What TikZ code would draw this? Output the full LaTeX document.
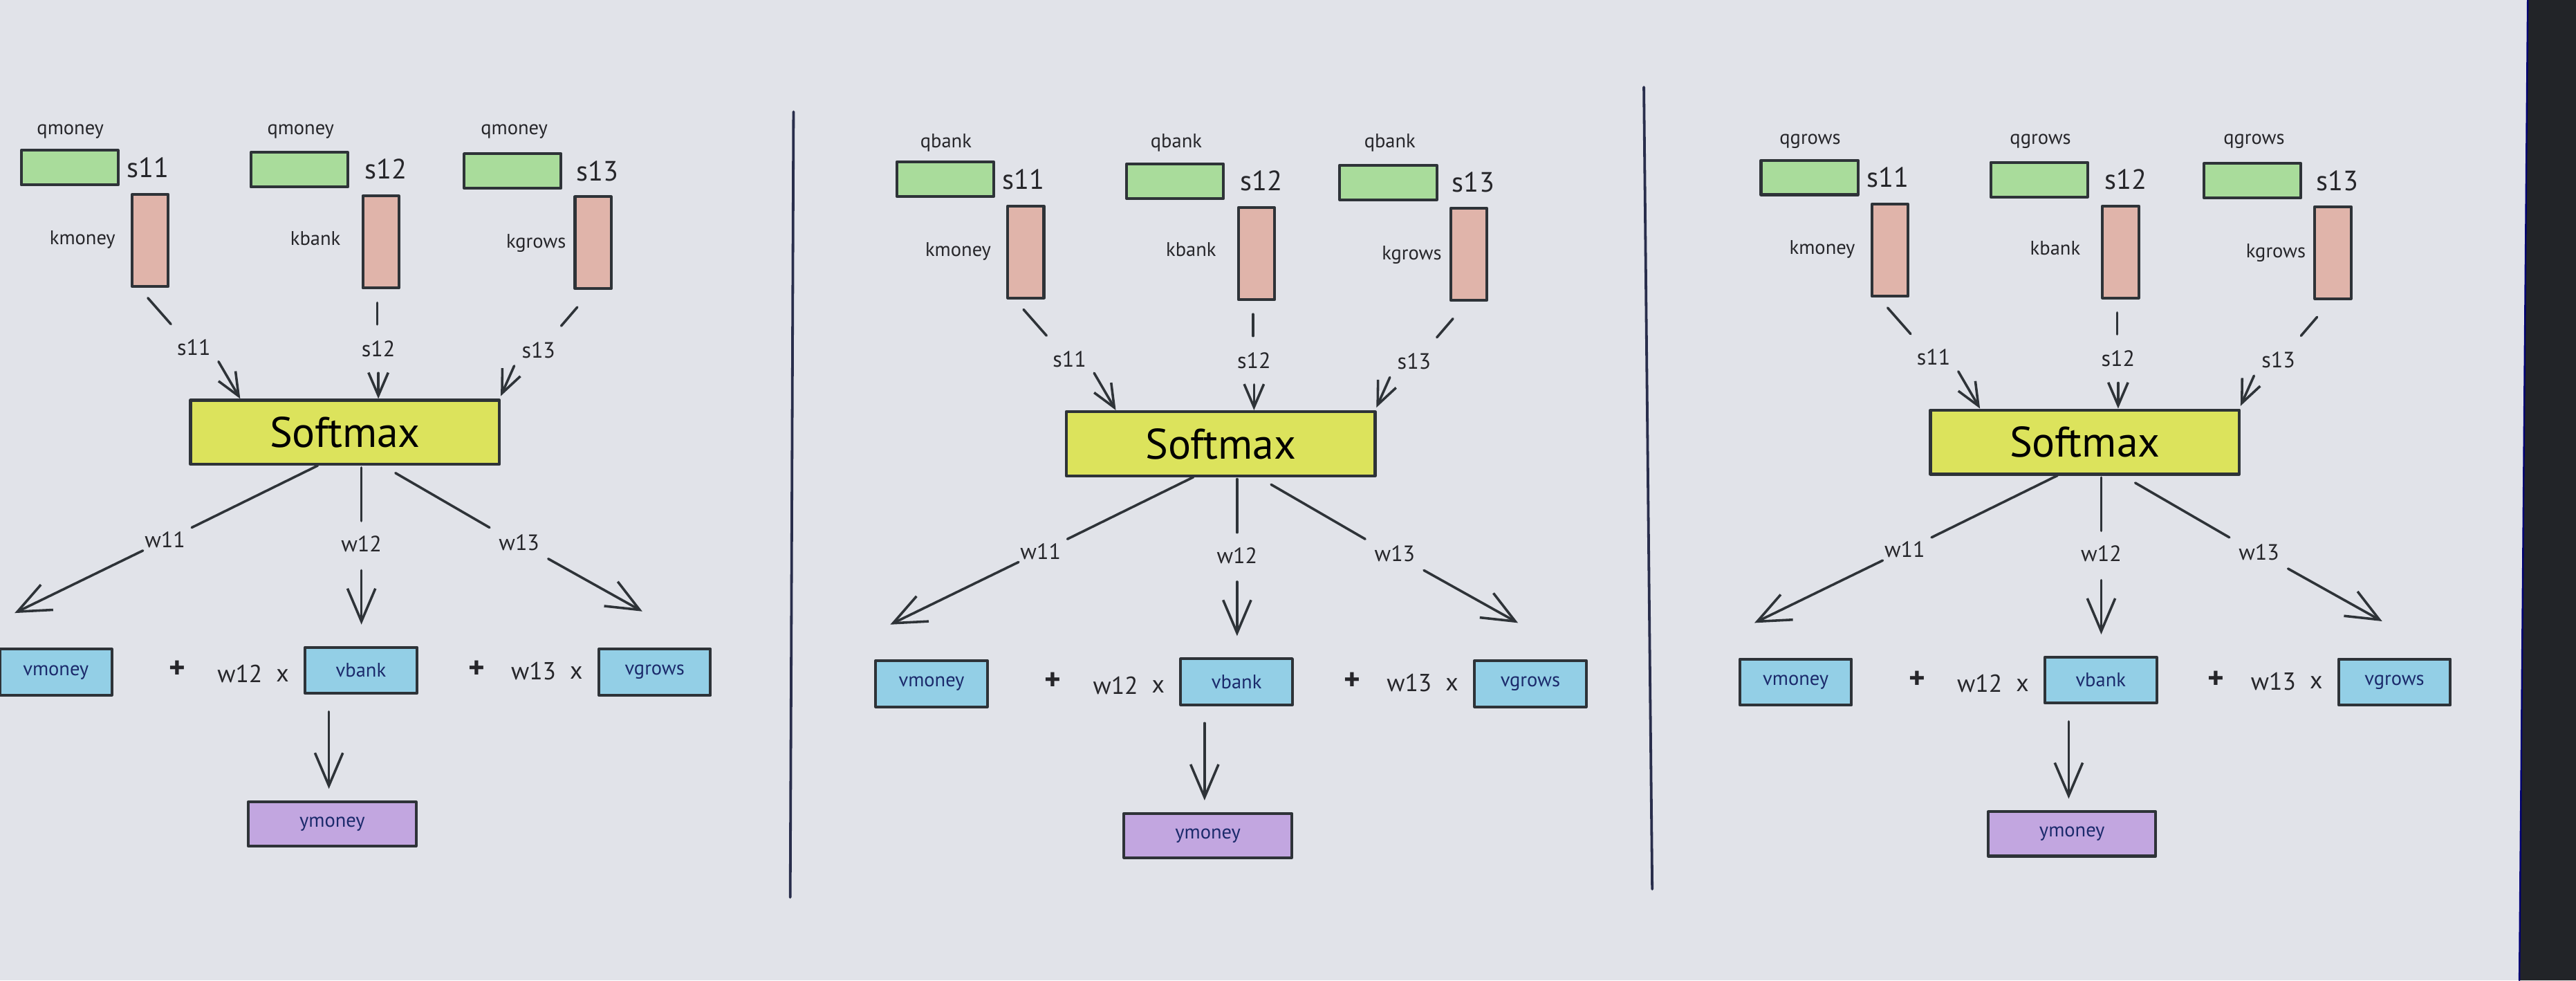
\documentclass[tikz,border=0pt]{standalone}
\usepackage{fontspec}
\setmainfont{PT Sans}
\usetikzlibrary{arrows.meta}
\definecolor{bgc}{HTML}{E1E3E9}
\definecolor{ink}{HTML}{26262A}
\definecolor{edge}{HTML}{2E3338}
\definecolor{qfill}{HTML}{A9DC9B}
\definecolor{kfill}{HTML}{E0B4AA}
\definecolor{smfill}{HTML}{DCE35C}
\definecolor{vfill}{HTML}{93CFE6}
\definecolor{yfill}{HTML}{C2A6E0}
\definecolor{vtext}{HTML}{1B2A6B}
\definecolor{bezel}{HTML}{222428}
\tikzset{
  base/.style={inner sep=0pt, text=ink},
  qlab/.style={base, font=\fontsize{12}{14}\selectfont},
  slab/.style={base, font=\fontsize{17}{19}\selectfont},
  mlab/.style={base, font=\fontsize{13.5}{15}\selectfont},
  oplab/.style={base, font=\fontsize{15}{17}\selectfont},
  pluslab/.style={base, font=\bfseries\fontsize{19}{21}\selectfont},
  qbox/.style={draw=edge, fill=qfill, line width=1.7pt, minimum width=59pt, minimum height=21pt, inner sep=0pt},
  kbox/.style={draw=edge, fill=kfill, line width=1.7pt, minimum width=22pt, minimum height=56pt, inner sep=0pt},
  smbox/.style={draw=edge, fill=smfill, line width=1.8pt, minimum width=188pt, minimum height=39pt, inner sep=0pt, text=black, font=\fontsize{26}{28}\selectfont},
  vbox/.style={draw=edge, fill=vfill, line width=1.7pt, minimum width=68pt, minimum height=28pt, inner sep=0pt, text=vtext, font=\fontsize{12}{14}\selectfont},
  ybox/.style={draw=edge, fill=yfill, line width=1.7pt, minimum width=102pt, minimum height=27pt, inner sep=0pt, text=vtext, font=\fontsize{12}{14}\selectfont},
  conn/.style={draw=edge, line width=1.5pt},
  arrS/.style={conn, -{Straight Barb[length=14pt,width=12pt]}},
  arrL/.style={conn, -{Straight Barb[length=20pt,width=17pt]}},
  divider/.style={draw=edge!90!blue, line width=1.6pt}
}
\newcommand\attnpanel[4]{%
\begin{scope}[shift={(#2,#3)}]
  % queries
  \node[qlab] (#1ql1) at (42.8,80) {#4};
  \node[qlab] (#1ql2) at (183,80) {#4};
  \node[qlab] (#1ql3) at (313,80) {#4};
  \node[qbox] (#1q1) at (42.4,102) {};
  \node[qbox] (#1q2) at (182.2,103.3) {};
  \node[qbox] (#1q3) at (312,104) {};
  \node[slab] (#1s1) at (90,102) {s11};
  \node[slab] (#1s2) at (234.8,103) {s12};
  \node[slab] (#1s3) at (363.8,104) {s13};
  % keys
  \node[kbox] (#1k1) at (91.4,146.3) {};
  \node[kbox] (#1k2) at (231.8,147.3) {};
  \node[kbox] (#1k3) at (361,147.7) {};
  \node[qlab] (#1kl1) at (50.2,145.8) {kmoney};
  \node[qlab] (#1kl2) at (192,145) {kbank};
  \node[qlab] (#1kl3) at (326.3,148) {kgrows};
  % score labels
  \node[mlab] (#1m1) at (118,211.5) {s11};
  \node[mlab] (#1m2) at (230.3,212.3) {s12};
  \node[mlab] (#1m3) at (327.8,213) {s13};
  % softmax
  \node[smbox] (#1sm) at (210,263) {Softmax};
  % weights
  \node[mlab] (#1w1) at (100.4,328.5) {w11};
  \node[mlab] (#1w2) at (220,331) {w12};
  \node[mlab] (#1w3) at (316,330) {w13};
  % values row
  \node[vbox] (#1v1) at (34,409) {vmoney};
  \node[pluslab] (#1p1) at (107.8,407.5) {+};
  \node[oplab] (#1o1) at (146,410) {w12};
  \node[oplab] (#1x1) at (172,411) {x};
  \node[vbox] (#1v2) at (219.7,407.8) {vbank};
  \node[pluslab] (#1p2) at (290,407.5) {+};
  \node[oplab] (#1o2) at (324.8,408.5) {w13};
  \node[oplab] (#1x2) at (350.8,409.4) {x};
  \node[vbox] (#1v3) at (398.5,409) {vgrows};
  \node[ybox] (#1y) at (202.2,501.4) {ymoney};
  % connector end points
  \coordinate (#1l1a) at (90,181.3);   \coordinate (#1l1b) at (104,197.2);
  \coordinate (#1l2a) at (229.7,184.2); \coordinate (#1l2b) at (229.7,197.4);
  \coordinate (#1l3a) at (351.4,186.9); \coordinate (#1l3b) at (341.6,198.3);
  \coordinate (#1a1a) at (133,220);    \coordinate (#1a1b) at (146.2,242.6);
  \coordinate (#1a2a) at (230.3,227);  \coordinate (#1a2b) at (230.3,242.6);
  \coordinate (#1a3a) at (313,222.6);  \coordinate (#1a3b) at (304.8,241);
  \coordinate (#1b1a) at (193.4,283.3); \coordinate (#1b1b) at (116.7,321);
  \coordinate (#1b2a) at (220,284.5);  \coordinate (#1b2b) at (220,317);
  \coordinate (#1b3a) at (240.7,287.8); \coordinate (#1b3b) at (298,321);
  \coordinate (#1c1a) at (87,335);     \coordinate (#1c1b) at (8.9,373);
  \coordinate (#1c2a) at (220,347);    \coordinate (#1c2b) at (220,380);
  \coordinate (#1c3a) at (333.7,340);  \coordinate (#1c3b) at (391,372);
  \coordinate (#1d1a) at (200.2,433);  \coordinate (#1d1b) at (200.2,480);
  % connectors
  \draw[conn] (#1l1a) -- (#1l1b);
  \draw[conn] (#1l2a) -- (#1l2b);
  \draw[conn] (#1l3a) -- (#1l3b);
  \draw[arrS] (#1a1a) -- (#1a1b);
  \draw[arrS] (#1a2a) -- (#1a2b);
  \draw[arrS] (#1a3a) -- (#1a3b);
  \draw[conn] (#1b1a) -- (#1b1b);
  \draw[conn] (#1b2a) -- (#1b2b);
  \draw[conn] (#1b3a) -- (#1b3b);
  \draw[arrL] (#1c1a) -- (#1c1b);
  \draw[arrL] (#1c2a) -- (#1c2b);
  \draw[arrL] (#1c3a) -- (#1c3b);
  \draw[arrL] (#1d1a) -- (#1d1b);
\end{scope}}
\begin{document}
\begin{tikzpicture}[x=1pt,y=-1pt,line cap=round,line join=round]
  \useasboundingbox (0,0) rectangle (1568,596.5);
  \fill[bgc] (0,0) rectangle (1568,596.5);
  \attnpanel{a}{0}{0}{qmoney}
  \attnpanel{b}{533}{7}{qbank}
  \attnpanel{c}{1059}{6}{qgrows}
  % panel dividers
  \coordinate (d1a) at (483,68);    \coordinate (d1b) at (481,546);
  \coordinate (d2a) at (1000.6,53); \coordinate (d2b) at (1005.7,541);
  \draw[divider] (d1a) -- (d1b);
  \draw[divider] (d2a) -- (d2b);
  % monitor bezel
  \fill[bezel] (1538.6,0) -- (1568,0) -- (1568,596.5) -- (1533.5,596.5) -- cycle;
  \draw[draw=blue!45!black, line width=1pt] (1538.6,0) -- (1533.5,596.5);
\end{tikzpicture}
\end{document}
